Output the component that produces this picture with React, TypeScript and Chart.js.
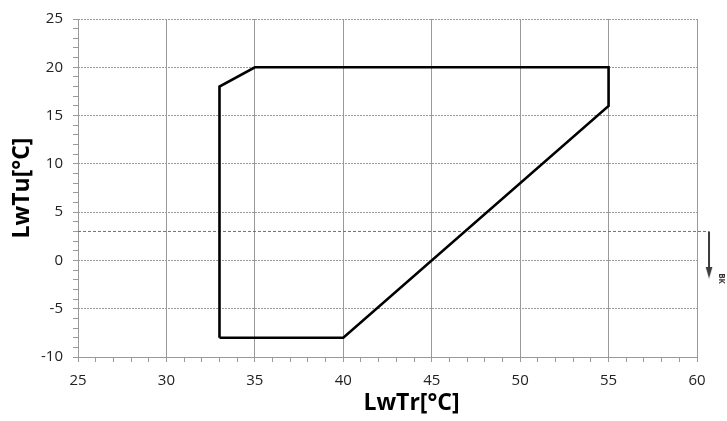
import { useEffect, useRef } from 'react';
import { Chart, registerables } from 'chart.js';

Chart.register(...registerables);

const envelopeX = [33, 33, 35, 55, 55, 40, 33];
const envelopeY = [-8, 18, 20, 20, 16, -8, -8];
const limitX = [25, 60.68];
const limitY = [3, 3];
const arrowX = [60.68, 60.68];
const arrowY = [3, -1.25];
const xMin = 25;
const xMax = 60;
const yMin = -10;
const yMax = 25;
const xTitle = 'LwTr[°C]';
const yTitle = 'LwTu[°C]';
const markerLabel = 'BK';

const FONT = '"Open Sans", "DejaVu Sans", sans-serif';

function makeArrowHead(): HTMLCanvasElement {
  const c = document.createElement('canvas');
  c.width = 8;
  c.height = 12;
  const g = c.getContext('2d')!;
  g.fillStyle = '#3c3c3c';
  g.beginPath();
  g.moveTo(0.5, 0);
  g.lineTo(7.5, 0);
  g.lineTo(4, 12);
  g.closePath();
  g.fill();
  return c;
}

export default function App() {
  const ref = useRef<HTMLCanvasElement | null>(null);

  useEffect(() => {
    if (!ref.current) return;
    const head = makeArrowHead();
    const textPlugin = {
      id: 'extraText',
      afterDraw(chart: any) {
        const { ctx, chartArea } = chart;
        ctx.save();
        ctx.fillStyle = '#000';
        ctx.font = `bold 23px ${FONT}`;
        ctx.textAlign = 'center';
        ctx.textBaseline = 'middle';
        const cx = (chartArea.left + chartArea.right) / 2 + 24;
        ctx.fillText(xTitle, cx, 403);
        const xs = chart.scales.x;
        const ys = chart.scales.y;
        const px = xs.getPixelForValue(arrowX[0]) + 12;
        const py = ys.getPixelForValue(arrowY[1]) + 6;
        ctx.translate(px, py);
        ctx.rotate(Math.PI / 2);
        ctx.font = `bold 8px ${FONT}`;
        ctx.fillStyle = '#3a3030';
        ctx.fillText(markerLabel, 0, 0);
        ctx.restore();
      },
    };

    const chart = new Chart(ref.current, {
      type: 'scatter',
      data: {
        datasets: [
          {
            data: envelopeX.map((x, i) => ({ x, y: envelopeY[i] })),
            showLine: true,
            borderColor: '#000',
            borderWidth: 2.6,
            pointRadius: 0,
            borderJoinStyle: 'miter',
            tension: 0,
          },
          {
            data: limitX.map((x, i) => ({ x, y: limitY[i] })),
            showLine: true,
            borderColor: '#707070',
            borderWidth: 1,
            borderDash: [3, 2],
            pointRadius: 0,
            clip: false,
          } as any,
          {
            data: arrowX.map((x, i) => ({ x, y: arrowY[i] })),
            showLine: true,
            borderColor: '#3c3c3c',
            borderWidth: 2,
            pointRadius: (c: any) => (c.dataIndex === 1 ? 16 : 0),
            pointStyle: (c: any) => (c.dataIndex === 1 ? head : 'circle'),
            pointBorderWidth: 0,
            clip: false,
          } as any,
        ],
      },
      options: {
        animation: false,
        responsive: true,
        maintainAspectRatio: false,
        layout: { padding: { top: 14, right: 30, left: 0, bottom: 0 } },
        plugins: { legend: { display: false }, tooltip: { enabled: false } },
        scales: {
          x: {
            type: 'linear',
            min: xMin,
            max: xMax,
            afterFit: (s: any) => {
              s.height = 64;
            },
            ticks: {
              stepSize: 1,
              autoSkip: false,
              maxRotation: 0,
              padding: 10,
              color: '#222',
              font: { family: FONT, size: 15 },
              callback: (v: any) => (Math.round(v) % 5 === 0 ? String(Math.round(v)) : ''),
            },
            grid: {
              color: (c: any) => (Math.round(c.tick.value) % 5 === 0 ? '#9a9a9a' : 'rgba(0,0,0,0)'),
              tickColor: '#9a9a9a',
              tickLength: 5,
              lineWidth: 1,
            },
            border: { display: true, color: '#9a9a9a', width: 1 },
          },
          y: {
            type: 'linear',
            min: yMin,
            max: yMax,
            afterFit: (s: any) => {
              s.width = 78;
            },
            ticks: {
              stepSize: 1,
              autoSkip: false,
              padding: 10,
              color: '#222',
              font: { family: FONT, size: 15 },
              callback: (v: any) => (Math.round(v) % 5 === 0 ? String(Math.round(v)) : ''),
            },
            grid: {
              color: (c: any) => (Math.round(c.tick.value) % 5 === 0 ? '#9a9a9a' : 'rgba(0,0,0,0)'),
              tickColor: '#9a9a9a',
              tickLength: 5,
              lineWidth: 1,
              borderDash: [2, 1],
              tickBorderDash: [],
            } as any,
            border: { display: false, dash: [2, 1] },
            title: {
              display: true,
              text: yTitle,
              color: '#000',
              font: { family: FONT, size: 23, weight: 'bold' },
              padding: { top: 9, bottom: 0 },
            },
          },
        },
      },
      plugins: [textPlugin],
    });
    return () => chart.destroy();
  }, []);

  return (
    <div style={{ position: 'absolute', left: 0, top: 0, width: 727, height: 421, background: '#fff' }}>
      <canvas ref={ref} />
    </div>
  );
}
